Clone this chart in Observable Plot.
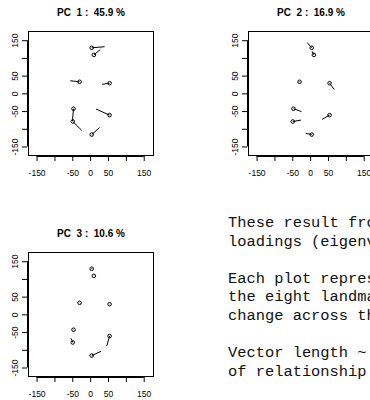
<!DOCTYPE html>
<html><head><meta charset="utf-8">
<script src="https://cdn.jsdelivr.net/npm/d3@7"></script>
<script src="https://cdn.jsdelivr.net/npm/@observablehq/plot@0.6"></script>
<style>
html,body{margin:0;padding:0;background:#fff;}
body{width:370px;height:400px;overflow:hidden;position:relative;}
.panel{position:absolute;}
.panel svg{max-width:none !important;display:block;}
#note{position:absolute;left:228px;top:214px;font-family:"Liberation Mono","Courier New",monospace;font-size:15.4px;line-height:18.6px;white-space:pre;color:#111;}
</style></head><body>
<div id="p1" class="panel" style="left:0;top:0;width:185px"></div>
<div id="p2" class="panel" style="left:185px;top:0;width:220px"></div>
<div id="p3" class="panel" style="left:0;top:200px;width:185px"></div>
<div id="note"></div>
<script>
// Mean landmark configuration (8 landmarks)
const landmarks = [1, 2, 3, 4, 5, 6, 7, 8];
const meanX = [3, 9, -31, 53, -48, -50, 53, 3];
const meanY = [130, 110, 34, 30, -42, -78, -60, -115];

// Vector end points for each principal component
const pcTitles = ["PC  1 :  45.9 %", "PC  2 :  16.9 %", "PC  3 :  10.6 %"];
const pc1EndX = [39, 27, -57, 32, -51, -25, 15, 25];
const pc1EndY = [133, 125, 37, 27, -77, -103, -43, -95];
const pc2EndX = [-10, 4, -33, 66, -26, -27, 32, -14];
const pc2EndY = [145, 120, 35, 12, -50, -74, -72, -111];
const pc3EndX = [4, 10, -30, 53, -49, -55, 45, 29];
const pc3EndY = [132, 111, 33, 31, -41, -66, -88, -103];

const axisTicks = [-150, -100, -50, 0, 50, 100, 150];
const tickLabels = ["-150", "", "-50", "0", "50", "", "150"];

const noteLines = [
  "These result from the PC",
  "loadings (eigenvectors).",
  "",
  "Each plot represents how",
  "the eight landmarks",
  "change across the PC.",
  "",
  "Vector length ~",
  "of relationship"
];

const labelFor = new Map(axisTicks.map((t, i) => [t, tickLabels[i]]));
const dom = [-174, 176];

function panel(title, endX, endY, m) {
  const rows = landmarks.map((id, i) => ({id, x: meanX[i], y: meanY[i], ex: endX[i], ey: endY[i]}));
  return Plot.plot({
    width: m.width, height: m.height,
    marginLeft: m.left, marginRight: m.right, marginTop: m.top, marginBottom: m.bottom,
    x: {domain: dom}, y: {domain: dom},
    style: {fontFamily: "'Liberation Sans', Arial, sans-serif", fontSize: "8.5px", color: "black", background: "white", overflow: "visible"},
    marks: [
      Plot.frame({stroke: "black", strokeWidth: 1}),
      Plot.ruleY([dom[0]], {x1: -150, x2: 150, dy: 1, stroke: "black"}),
      Plot.ruleX([dom[0]], {y1: -150, y2: 150, dx: -1, stroke: "black"}),
      Plot.axisX(axisTicks, {tickSize: 5, tickPadding: 8, dy: 1, label: null, tickFormat: d => labelFor.get(d)}),
      Plot.axisY(axisTicks, {tickSize: 5, tickPadding: 5, dx: -1, tickRotate: -90, label: null, tickFormat: d => labelFor.get(d)}),
      Plot.link(rows, {x1: "x", y1: "y", x2: "ex", y2: "ey", stroke: "black", strokeWidth: 1}),
      Plot.dot(rows, {x: "x", y: "y", r: 1.8, stroke: "black", strokeWidth: 1, fill: "none"}),
      Plot.text([title], {frameAnchor: "top", dy: -19, lineAnchor: "middle", fontWeight: "bold", fontSize: 10, fill: "black"})
    ]
  });
}

document.getElementById("p1").append(panel(pcTitles[0], pc1EndX, pc1EndY, {width: 185, height: 200, left: 28, right: 32, top: 31, bottom: 45}));
document.getElementById("p2").append(panel(pcTitles[1], pc2EndX, pc2EndY, {width: 220, height: 200, left: 63, right: 32, top: 31, bottom: 45}));
document.getElementById("p3").append(panel(pcTitles[2], pc3EndX, pc3EndY, {width: 185, height: 200, left: 28, right: 32, top: 52, bottom: 24}));
document.getElementById("note").textContent = noteLines.join("\n");
</script>
</body></html>
